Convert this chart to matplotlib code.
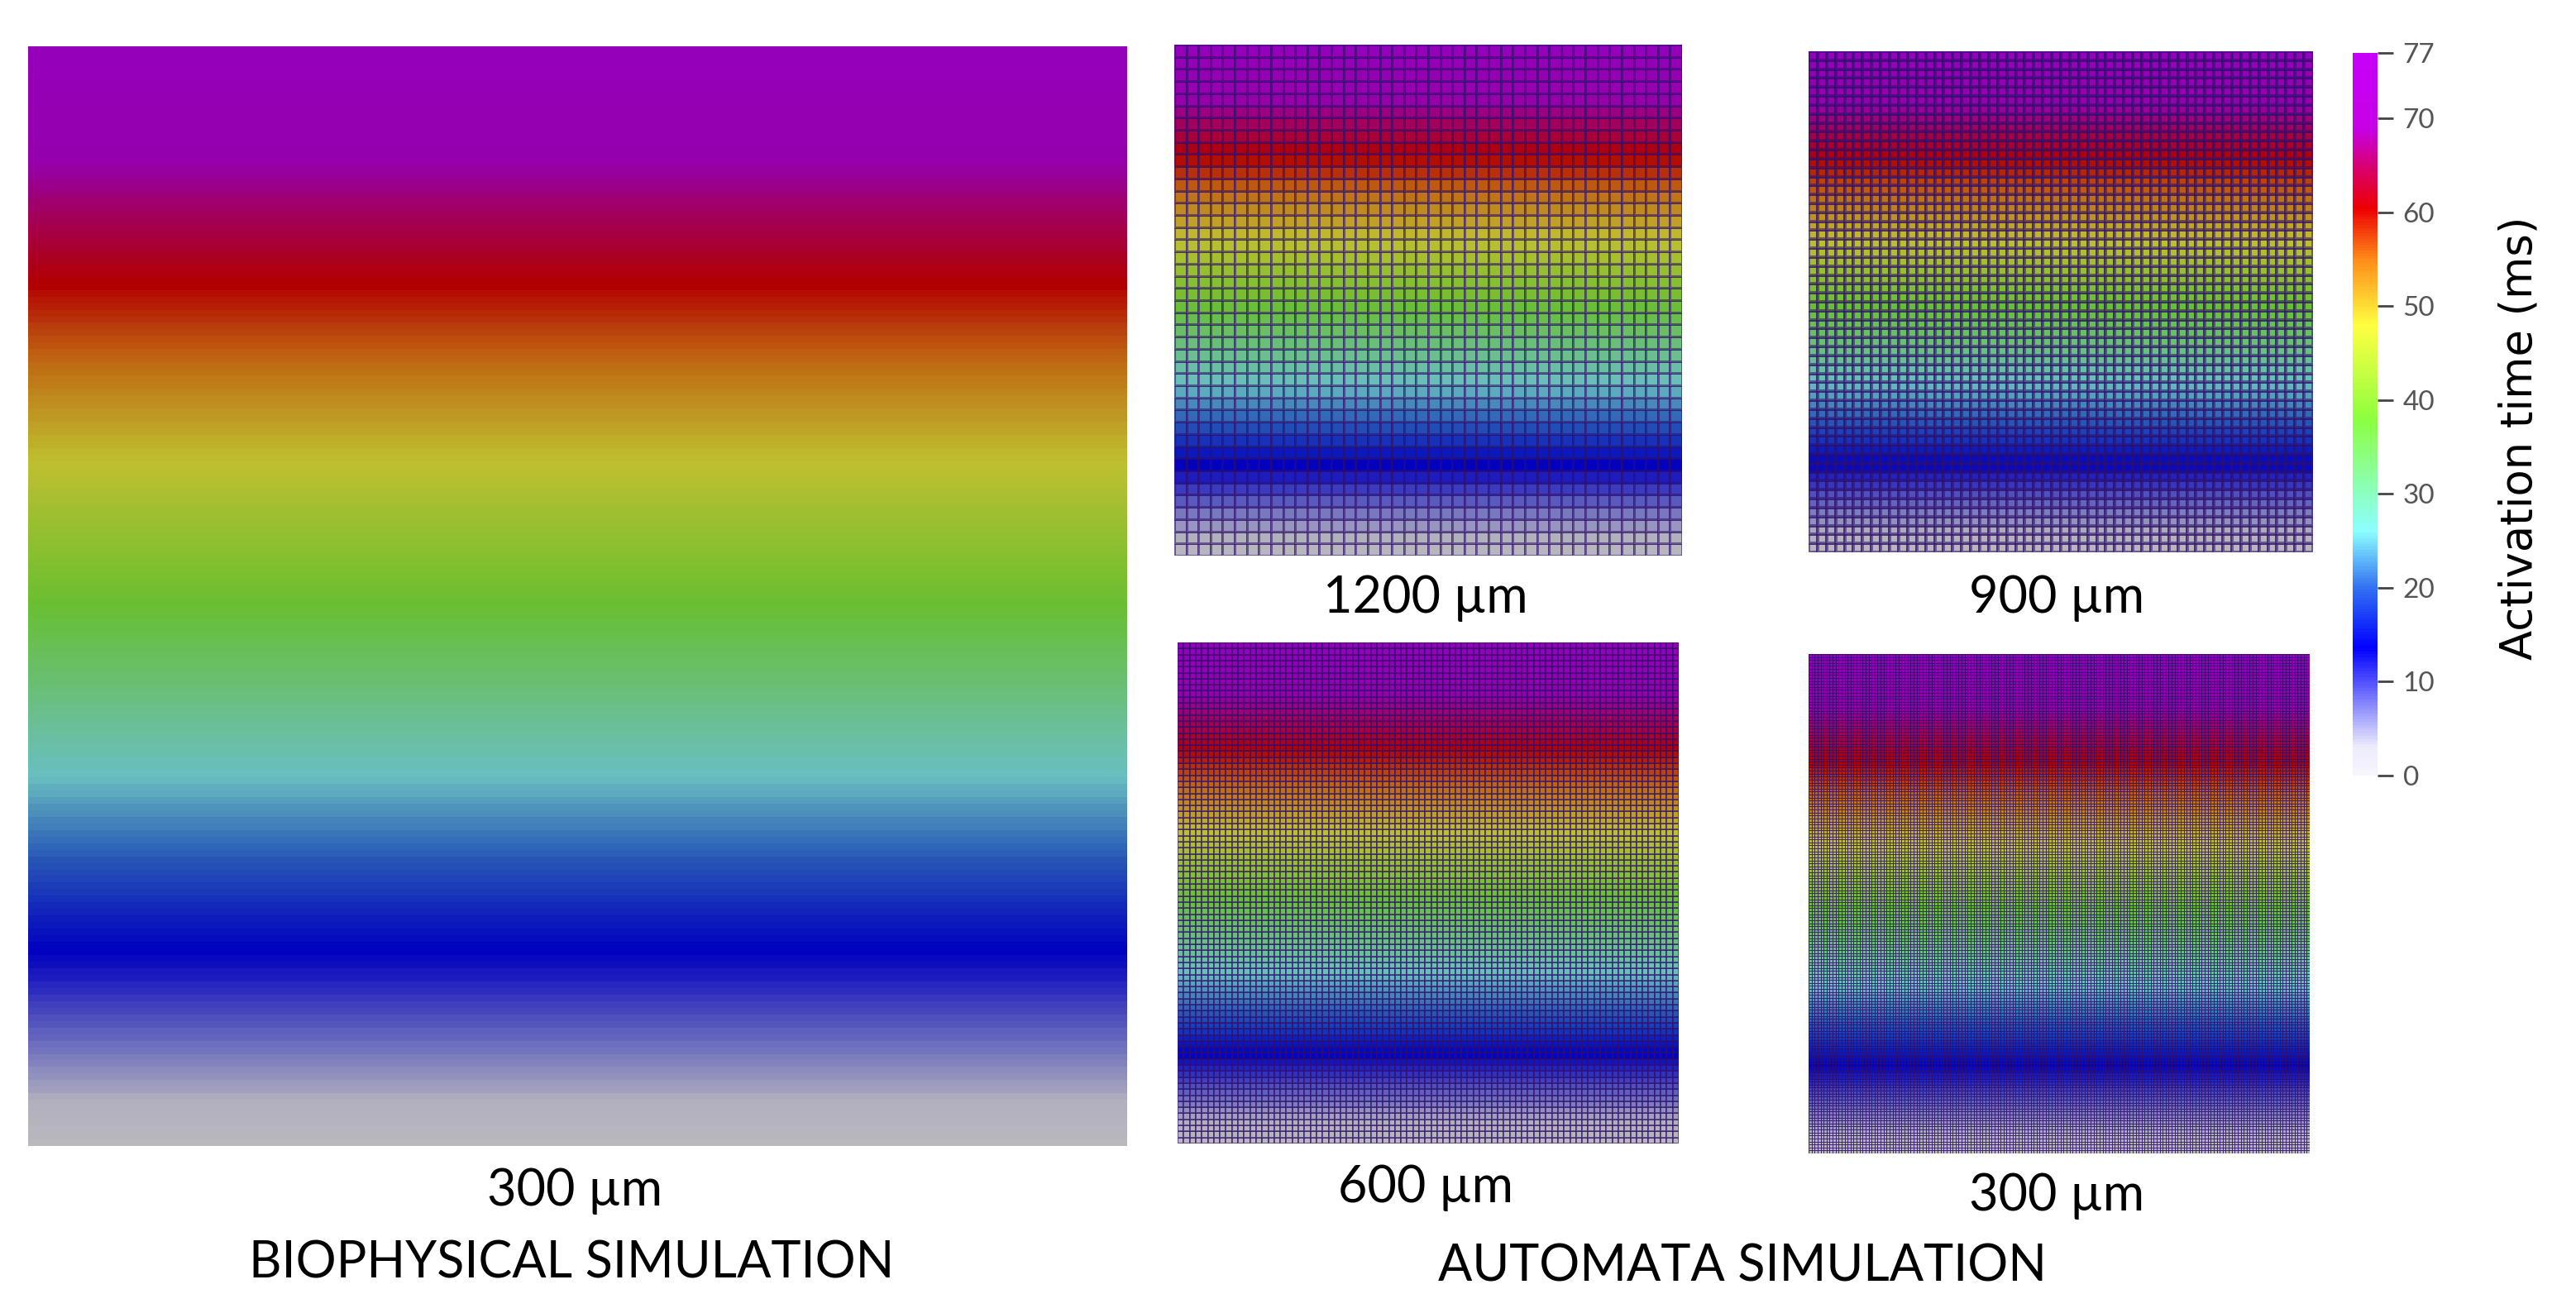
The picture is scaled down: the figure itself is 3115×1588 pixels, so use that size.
import numpy as np
import matplotlib
matplotlib.use("Agg")
import matplotlib.pyplot as plt
from matplotlib.colors import LinearSegmentedColormap, Normalize

# activation time range (ms), planar wave from bottom (0) to top (77)
t_min, t_max = 0.0, 77.0
cbar_ticks = [0, 10, 20, 30, 40, 50, 60, 70, 77]

# tissue is the same size in every panel; cell counts per mesh spacing
tissue_um = 50000
spacing_um = [1200, 900, 600, 300]
spacing_labels = ["1200 µm", "900 µm", "600 µm", "300 µm"]
biophys_spacing = 300
biophys_label = "300 µm"

# colour stops (value in ms, rgb) of the rainbow map
cmap_vals = [0, 3, 13.5, 20, 26, 38, 48, 55, 60.5, 65, 69, 77]
cmap_rgb = [
    (0.97, 0.96, 0.99),
    (0.92, 0.92, 0.99),
    (0.00, 0.00, 1.00),
    (0.20, 0.45, 0.95),
    (0.55, 1.00, 1.00),
    (0.55, 1.00, 0.25),
    (1.00, 1.00, 0.25),
    (1.00, 0.55, 0.10),
    (0.93, 0.00, 0.00),
    (0.85, 0.00, 0.45),
    (0.78, 0.00, 0.90),
    (0.78, 0.00, 0.98),
]

W, H = 3115, 1588
fig = plt.figure(figsize=(W / 100, H / 100), dpi=100)
plt.rcParams["font.family"] = ["Lato", "DejaVu Sans"]

stops = [(v - t_min) / (t_max - t_min) for v in cmap_vals]
bright = LinearSegmentedColormap.from_list("rb", list(zip(stops, cmap_rgb)))
# the rendered panels are lit, so they look darker than the colour bar
shaded = LinearSegmentedColormap.from_list(
    "rb_shaded", list(zip(stops, [tuple(0.75 * c for c in rgb) for rgb in cmap_rgb])))
norm = Normalize(t_min, t_max)


def px_axes(x0, y0, x1, y1):
    # axes from pixel box (top-left origin)
    return fig.add_axes([x0 / W, 1 - y1 / H, (x1 - x0) / W, (y1 - y0) / H])


def draw_mesh(ax, spacing, grid, lw=1.0, alpha=0.55):
    n = int(round(tissue_um / spacing))
    edges = np.arange(n + 1)
    centres = (np.arange(n) + 0.5) / n
    at = t_min + (t_max - t_min) * centres      # activation time per row
    Z = np.repeat(at[:, None], n, axis=1)
    if grid:
        ax.pcolormesh(edges, edges, Z, cmap=shaded, norm=norm,
                      edgecolors=(0.18, 0.06, 0.42, alpha), linewidth=lw)
    else:
        ax.pcolormesh(edges, edges, Z, cmap=shaded, norm=norm)
    ax.set_xlim(0, n)
    ax.set_ylim(0, n)
    ax.set_axis_off()


# biophysical simulation
ax_bio = px_axes(34, 56, 1363, 1386)
draw_mesh(ax_bio, biophys_spacing, grid=False)

# automata simulations
boxes = [(1420, 54, 2034, 672), (2187, 62, 2797, 668),
         (1424, 777, 2030, 1383), (2187, 791, 2793, 1395)]
line_w = [2.0, 1.7, 1.3, 0.7]
line_a = [0.55, 0.55, 0.6, 0.85]
for box, sp, lw, a in zip(boxes, spacing_um, line_w, line_a):
    ax = px_axes(*box)
    draw_mesh(ax, sp, grid=True, lw=lw, alpha=a)

# labels
fs = 44
label_pos = [(1724, 741), (2487, 741), (1724, 1454), (2487, 1464)]
for (x, y), lab in zip(label_pos, spacing_labels):
    fig.text(x / W, 1 - y / H, lab, ha="center", va="baseline", fontsize=fs)
fig.text(695 / W, 1 - 1458 / H, biophys_label, ha="center", va="baseline", fontsize=fs)
fig.text(691 / W, 1 - 1546 / H, "BIOPHYSICAL SIMULATION", ha="center", va="baseline", fontsize=fs)
fig.text(2107 / W, 1 - 1550 / H, "AUTOMATA SIMULATION", ha="center", va="baseline", fontsize=fs)

# colour bar
cax = px_axes(2845, 64, 2875, 938)
sm = plt.cm.ScalarMappable(norm=norm, cmap=bright)
cb = fig.colorbar(sm, cax=cax, ticks=cbar_ticks)
cb.outline.set_visible(False)
cax.tick_params(length=14, width=2, color="#444444", pad=8,
                labelsize=24, labelcolor="#555555")
fig.text(3046 / W, 1 - 530 / H, "Activation time (ms)", rotation=90,
         ha="center", va="center", fontsize=38,
         family=["Liberation Sans Narrow", "DejaVu Sans"])

fig.savefig("out.png", dpi=100)
